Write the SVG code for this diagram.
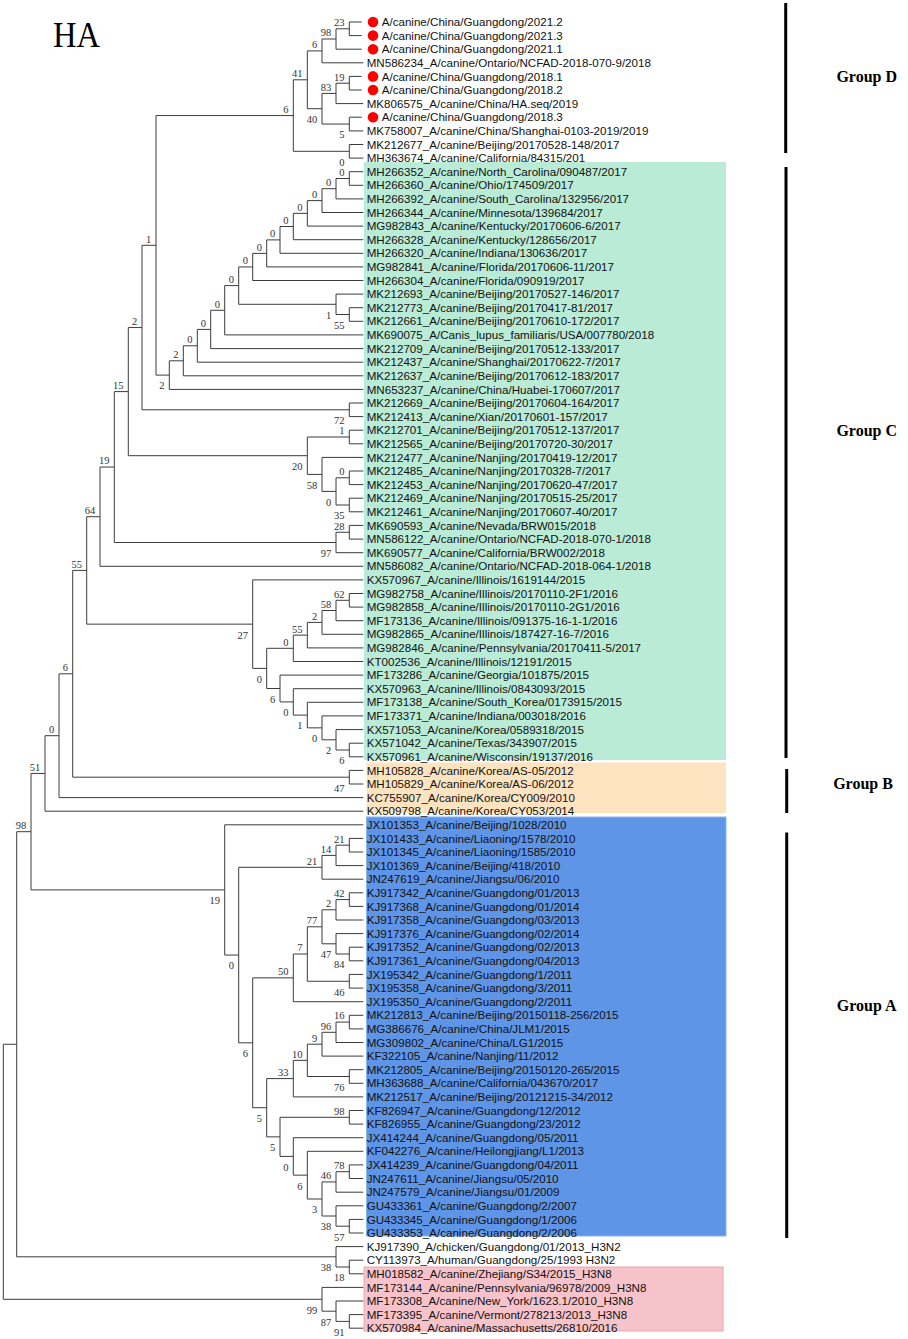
<svg xmlns="http://www.w3.org/2000/svg" width="908" height="1339" viewBox="0 0 908 1339">
<style>
.br{fill:none;stroke:#3c3c3c;stroke-width:1}
.lf{font-family:"Liberation Sans",Arial,sans-serif;font-size:11.6px;fill:#111}
.bs{font-family:"Liberation Serif","Times New Roman",serif;font-size:10.5px;fill:#333;text-anchor:end}
.grp{font-family:"Liberation Serif","Times New Roman",serif;font-weight:bold;font-size:16px;text-anchor:middle;fill:#000}
.bar{stroke:#000;stroke-width:3}
.dot{fill:#ff0000}
</style>
<rect width="908" height="1339" fill="#fff"/>
<g id="backgrounds">
<rect x="364" y="162" width="362" height="598" fill="#b9ebd6"/>
<rect x="366.5" y="762.5" width="359.5" height="50.5" fill="#fde3bf"/>
<rect x="366.5" y="817" width="359.5" height="419" fill="#5f95e6" stroke="#8cb3ee" stroke-width="1"/>
<rect x="364" y="1267" width="359" height="64" fill="#f7c3ca" stroke="#eaa6b0" stroke-width="1"/>
</g>
<g id="title"><text x="53" y="47" font-family="Liberation Serif,'Times New Roman',serif" font-size="35" textLength="47" lengthAdjust="spacingAndGlyphs" fill="#000">HA</text></g>
<g id="connectors">
<path class="br" d="M361.7 22 H349.3 V35.6 H361.7"/>
<path class="br" d="M349.3 28.8 H336 V49.2 H361.7"/>
<path class="br" d="M336 39 H322 V62.8 H363.3"/>
<path class="br" d="M361.7 76.4 H349.3 V90 H361.7"/>
<path class="br" d="M349.3 83.2 H336 V103.6 H363.3"/>
<path class="br" d="M361.7 117.2 H349.3 V130.9 H363.3"/>
<path class="br" d="M336 93.4 H322 V124.05 H349.3"/>
<path class="br" d="M322 50.9 H307.3 V108.7 H322"/>
<path class="br" d="M363.3 144.5 H349.3 V158.1 H363.3"/>
<path class="br" d="M307.3 79.8 H293.3 V151.3 H349.3"/>
<path class="br" d="M363.3 171.7 H349.3 V185.3 H363.3"/>
<path class="br" d="M349.3 178.5 H336 V198.9 H363.3"/>
<path class="br" d="M336 188.7 H322 V212.5 H363.3"/>
<path class="br" d="M322 200.6 H307.3 V226.1 H363.3"/>
<path class="br" d="M307.3 213.35 H293.3 V239.7 H363.3"/>
<path class="br" d="M293.3 226.5 H280 V253.3 H363.3"/>
<path class="br" d="M280 239.9 H266.7 V266.9 H363.3"/>
<path class="br" d="M266.7 253.4 H252.7 V280.5 H363.3"/>
<path class="br" d="M363.3 307.7 H349.3 V321.3 H363.3"/>
<path class="br" d="M363.3 294.1 H336 V314.5 H349.3"/>
<path class="br" d="M252.7 266.95 H238.7 V304.3 H336"/>
<path class="br" d="M238.7 285.6 H224.7 V334.9 H363.3"/>
<path class="br" d="M224.7 310.25 H210.7 V348.6 H363.3"/>
<path class="br" d="M210.7 329.4 H197.3 V362.2 H363.3"/>
<path class="br" d="M197.3 345.8 H183.3 V375.8 H363.3"/>
<path class="br" d="M183.3 360.8 H169.3 V389.4 H363.3"/>
<path class="br" d="M293.3 115.55 H156 V375.1 H169.3"/>
<path class="br" d="M363.3 403 H349.3 V416.6 H363.3"/>
<path class="br" d="M156 245.3 H142 V409.8 H349.3"/>
<path class="br" d="M363.3 430.2 H349.3 V443.8 H363.3"/>
<path class="br" d="M363.3 471 H349.3 V484.6 H363.3"/>
<path class="br" d="M363.3 498.2 H349.3 V511.8 H363.3"/>
<path class="br" d="M349.3 477.8 H336 V505 H349.3"/>
<path class="br" d="M363.3 457.4 H322 V491.4 H336"/>
<path class="br" d="M349.3 437 H307.3 V474.4 H322"/>
<path class="br" d="M142 327.55 H128.3 V455.7 H307.3"/>
<path class="br" d="M363.3 525.4 H349.3 V539.1 H363.3"/>
<path class="br" d="M349.3 532.25 H336 V552.7 H363.3"/>
<path class="br" d="M128.3 391.6 H114.3 V542.5 H336"/>
<path class="br" d="M114.3 467.05 H100 V566.3 H363.3"/>
<path class="br" d="M363.3 593.5 H349.3 V607.1 H363.3"/>
<path class="br" d="M349.3 600.3 H336 V620.7 H363.3"/>
<path class="br" d="M336 610.5 H322 V634.3 H363.3"/>
<path class="br" d="M322 622.4 H307.3 V647.9 H363.3"/>
<path class="br" d="M307.3 635.15 H293.3 V661.5 H363.3"/>
<path class="br" d="M363.3 743.2 H349.3 V756.8 H363.3"/>
<path class="br" d="M363.3 729.6 H336 V750 H349.3"/>
<path class="br" d="M363.3 715.9 H322 V739.8 H336"/>
<path class="br" d="M363.3 702.3 H307.3 V727.85 H322"/>
<path class="br" d="M363.3 688.7 H293.3 V715.1 H307.3"/>
<path class="br" d="M363.3 675.1 H280 V701.9 H293.3"/>
<path class="br" d="M293.3 648.3 H266.7 V688.5 H280"/>
<path class="br" d="M363.3 579.9 H252.7 V668.4 H266.7"/>
<path class="br" d="M100 516.7 H86.7 V624.15 H252.7"/>
<path class="br" d="M363.3 770.4 H349.3 V784 H363.3"/>
<path class="br" d="M86.7 570.4 H72.7 V777.2 H349.3"/>
<path class="br" d="M72.7 673.8 H59 V797.6 H363.3"/>
<path class="br" d="M59 735.7 H45 V811.2 H363.3"/>
<path class="br" d="M363.3 838.4 H349.3 V852 H363.3"/>
<path class="br" d="M349.3 845.2 H336 V865.6 H363.3"/>
<path class="br" d="M336 855.4 H322 V879.2 H363.3"/>
<path class="br" d="M363.3 892.8 H349.3 V906.4 H363.3"/>
<path class="br" d="M349.3 899.6 H336 V920 H363.3"/>
<path class="br" d="M363.3 947.2 H349.3 V960.8 H363.3"/>
<path class="br" d="M363.3 933.6 H336 V954 H349.3"/>
<path class="br" d="M336 909.8 H322 V943.8 H336"/>
<path class="br" d="M363.3 974.4 H349.3 V988.1 H363.3"/>
<path class="br" d="M322 926.8 H307.3 V981.25 H349.3"/>
<path class="br" d="M307.3 954 H293.3 V1001.7 H363.3"/>
<path class="br" d="M363.3 1015.3 H349.3 V1028.9 H363.3"/>
<path class="br" d="M349.3 1022.1 H336 V1042.5 H363.3"/>
<path class="br" d="M336 1032.3 H322 V1056.1 H363.3"/>
<path class="br" d="M363.3 1069.7 H349.3 V1083.3 H363.3"/>
<path class="br" d="M322 1044.2 H307.3 V1076.5 H349.3"/>
<path class="br" d="M307.3 1060.35 H293.3 V1096.9 H363.3"/>
<path class="br" d="M363.3 1110.5 H349.3 V1124.1 H363.3"/>
<path class="br" d="M363.3 1164.9 H349.3 V1178.5 H363.3"/>
<path class="br" d="M349.3 1171.7 H336 V1192.2 H363.3"/>
<path class="br" d="M363.3 1219.4 H349.3 V1233 H363.3"/>
<path class="br" d="M363.3 1205.8 H336 V1226.2 H349.3"/>
<path class="br" d="M336 1181.95 H322 V1216 H336"/>
<path class="br" d="M363.3 1151.3 H307.3 V1199 H322"/>
<path class="br" d="M363.3 1137.7 H293.3 V1175.15 H307.3"/>
<path class="br" d="M349.3 1117.3 H280 V1156.4 H293.3"/>
<path class="br" d="M293.3 1078.6 H266.7 V1136.85 H280"/>
<path class="br" d="M293.3 977.85 H252.7 V1107.7 H266.7"/>
<path class="br" d="M322 867.3 H238.7 V1042.8 H252.7"/>
<path class="br" d="M363.3 824.8 H224.7 V955.05 H238.7"/>
<path class="br" d="M45 773.45 H31 V889.9 H224.7"/>
<path class="br" d="M363.3 1260.2 H349.3 V1273.8 H363.3"/>
<path class="br" d="M363.3 1246.6 H336 V1267 H349.3"/>
<path class="br" d="M31 831.7 H16.7 V1256.8 H336"/>
<path class="br" d="M363.3 1314.6 H349.3 V1328.2 H363.3"/>
<path class="br" d="M363.3 1301 H336 V1321.4 H349.3"/>
<path class="br" d="M363.3 1287.4 H322 V1311.2 H336"/>
<path class="br" d="M16.7 1044.25 H3.3 V1299.3 H322"/>
</g>
<g id="bootstrap">
<g id="nA"><text class="bs" x="344.5" y="26.1">23</text></g>
<g id="nB"><text class="bs" x="331.2" y="36.3">98</text></g>
<g id="nC"><text class="bs" x="317.2" y="48.2">6</text></g>
<g id="nD"><text class="bs" x="344.5" y="80.5">19</text></g>
<g id="nE"><text class="bs" x="331.2" y="90.7">83</text></g>
<g id="nF"><text class="bs" x="344.5" y="138.4">5</text></g>
<g id="nG"><text class="bs" x="317.2" y="123">40</text></g>
<g id="nH"><text class="bs" x="302.5" y="77.1">41</text></g>
<g id="nI"><text class="bs" x="344.5" y="165.6">0</text></g>
<g id="nJ"><text class="bs" x="288.5" y="112.9">6</text></g>
<g id="c1"><text class="bs" x="344.5" y="175.8">0</text></g>
<g id="c2"><text class="bs" x="331.2" y="186">0</text></g>
<g id="c3"><text class="bs" x="317.2" y="197.9">0</text></g>
<g id="c4"><text class="bs" x="302.5" y="210.7">0</text></g>
<g id="c5"><text class="bs" x="288.5" y="223.8">0</text></g>
<g id="c6"><text class="bs" x="275.2" y="237.2">0</text></g>
<g id="c7"><text class="bs" x="261.9" y="250.7">0</text></g>
<g id="c8"><text class="bs" x="247.9" y="264.3">0</text></g>
<g id="c9"><text class="bs" x="344.5" y="328.8">55</text></g>
<g id="c10"><text class="bs" x="331.2" y="318.6">1</text></g>
<g id="c11"><text class="bs" x="233.9" y="282.9">0</text></g>
<g id="c12"><text class="bs" x="219.9" y="307.6">0</text></g>
<g id="c13"><text class="bs" x="205.9" y="326.7">0</text></g>
<g id="c14"><text class="bs" x="192.5" y="343.1">0</text></g>
<g id="c15"><text class="bs" x="178.5" y="358.1">2</text></g>
<g id="c16"><text class="bs" x="164.5" y="389.4">2</text></g>
<g id="nK"><text class="bs" x="151.2" y="242.6">1</text></g>
<g id="c17"><text class="bs" x="344.5" y="424.1">72</text></g>
<g id="c18"><text class="bs" x="137.2" y="324.9">2</text></g>
<g id="c19"><text class="bs" x="344.5" y="434.3">1</text></g>
<g id="c20"><text class="bs" x="344.5" y="475.1">0</text></g>
<g id="c21"><text class="bs" x="344.5" y="519.3">35</text></g>
<g id="c22"><text class="bs" x="331.2" y="505.7">0</text></g>
<g id="c23"><text class="bs" x="317.2" y="488.7">58</text></g>
<g id="c24"><text class="bs" x="302.5" y="470">20</text></g>
<g id="c25"><text class="bs" x="123.5" y="388.9">15</text></g>
<g id="c26"><text class="bs" x="344.5" y="529.6">28</text></g>
<g id="c27"><text class="bs" x="331.2" y="556.8">97</text></g>
<g id="c28"><text class="bs" x="109.5" y="464.4">19</text></g>
<g id="c29"><text class="bs" x="95.2" y="514">64</text></g>
<g id="d1"><text class="bs" x="344.5" y="597.6">62</text></g>
<g id="d2"><text class="bs" x="331.2" y="607.8">58</text></g>
<g id="d3"><text class="bs" x="317.2" y="619.7">2</text></g>
<g id="d4"><text class="bs" x="302.5" y="632.5">55</text></g>
<g id="d5"><text class="bs" x="288.5" y="645.6">0</text></g>
<g id="d6"><text class="bs" x="344.5" y="764.3">6</text></g>
<g id="d7"><text class="bs" x="331.2" y="754.1">2</text></g>
<g id="d8"><text class="bs" x="317.2" y="742.2">0</text></g>
<g id="d9"><text class="bs" x="302.5" y="729.4">1</text></g>
<g id="d10"><text class="bs" x="288.5" y="716.2">0</text></g>
<g id="d11"><text class="bs" x="275.2" y="702.8">6</text></g>
<g id="d12"><text class="bs" x="261.9" y="682.7">0</text></g>
<g id="d13"><text class="bs" x="247.9" y="638.5">27</text></g>
<g id="d14"><text class="bs" x="81.9" y="567.7">55</text></g>
<g id="b1"><text class="bs" x="344.5" y="791.5">47</text></g>
<g id="b2"><text class="bs" x="67.9" y="671.1">6</text></g>
<g id="b3"><text class="bs" x="54.2" y="733">0</text></g>
<g id="b4"><text class="bs" x="40.2" y="770.8">51</text></g>
<g id="a1"><text class="bs" x="344.5" y="842.5">21</text></g>
<g id="a2"><text class="bs" x="331.2" y="852.7">14</text></g>
<g id="a3"><text class="bs" x="317.2" y="864.6">21</text></g>
<g id="a4"><text class="bs" x="344.5" y="896.9">42</text></g>
<g id="a5"><text class="bs" x="331.2" y="907.1">2</text></g>
<g id="a6"><text class="bs" x="344.5" y="968.3">84</text></g>
<g id="a7"><text class="bs" x="331.2" y="958.1">47</text></g>
<g id="a8"><text class="bs" x="317.2" y="924.1">77</text></g>
<g id="a9"><text class="bs" x="344.5" y="995.6">46</text></g>
<g id="a10"><text class="bs" x="302.5" y="951.3">7</text></g>
<g id="a11"><text class="bs" x="288.5" y="975.2">50</text></g>
<g id="a12"><text class="bs" x="344.5" y="1019.4">16</text></g>
<g id="a13"><text class="bs" x="331.2" y="1029.6">96</text></g>
<g id="a14"><text class="bs" x="317.2" y="1041.5">9</text></g>
<g id="a15"><text class="bs" x="344.5" y="1090.8">76</text></g>
<g id="a16"><text class="bs" x="302.5" y="1057.7">10</text></g>
<g id="a17"><text class="bs" x="288.5" y="1075.9">33</text></g>
<g id="a18"><text class="bs" x="344.5" y="1114.6">98</text></g>
<g id="a19"><text class="bs" x="344.5" y="1169">78</text></g>
<g id="a20"><text class="bs" x="331.2" y="1179.3">46</text></g>
<g id="a21"><text class="bs" x="344.5" y="1240.5">57</text></g>
<g id="a22"><text class="bs" x="331.2" y="1230.3">38</text></g>
<g id="a23"><text class="bs" x="317.2" y="1213.3">3</text></g>
<g id="a24"><text class="bs" x="302.5" y="1189.5">6</text></g>
<g id="a25"><text class="bs" x="288.5" y="1170.7">0</text></g>
<g id="a26"><text class="bs" x="275.2" y="1151.2">5</text></g>
<g id="a27"><text class="bs" x="261.9" y="1122">5</text></g>
<g id="a28"><text class="bs" x="247.9" y="1057.1">6</text></g>
<g id="a29"><text class="bs" x="233.9" y="969.4">0</text></g>
<g id="a30"><text class="bs" x="219.9" y="904.2">19</text></g>
<g id="r1"><text class="bs" x="26.2" y="829">98</text></g>
<g id="o1"><text class="bs" x="344.5" y="1281.3">18</text></g>
<g id="o2"><text class="bs" x="331.2" y="1271.1">38</text></g>
<g id="o3"><text class="bs" x="344.5" y="1335.7">91</text></g>
<g id="o4"><text class="bs" x="331.2" y="1325.5">87</text></g>
<g id="o5"><text class="bs" x="317.2" y="1313.6">99</text></g>
</g>
<g id="leaves">
<g id="leaf1"><circle class="dot" cx="373" cy="22" r="5.3"/><text class="lf" x="381.7" y="26.1">A/canine/China/Guangdong/2021.2</text></g>
<g id="leaf2"><circle class="dot" cx="373" cy="35.6" r="5.3"/><text class="lf" x="381.7" y="39.7">A/canine/China/Guangdong/2021.3</text></g>
<g id="leaf3"><circle class="dot" cx="373" cy="49.2" r="5.3"/><text class="lf" x="381.7" y="53.3">A/canine/China/Guangdong/2021.1</text></g>
<g id="leaf4"><text class="lf" x="366.7" y="66.9">MN586234_A/canine/Ontario/NCFAD-2018-070-9/2018</text></g>
<g id="leaf5"><circle class="dot" cx="373" cy="76.4" r="5.3"/><text class="lf" x="381.7" y="80.5">A/canine/China/Guangdong/2018.1</text></g>
<g id="leaf6"><circle class="dot" cx="373" cy="90" r="5.3"/><text class="lf" x="381.7" y="94.1">A/canine/China/Guangdong/2018.2</text></g>
<g id="leaf7"><text class="lf" x="366.7" y="107.7">MK806575_A/canine/China/HA.seq/2019</text></g>
<g id="leaf8"><circle class="dot" cx="373" cy="117.2" r="5.3"/><text class="lf" x="381.7" y="121.3">A/canine/China/Guangdong/2018.3</text></g>
<g id="leaf9"><text class="lf" x="366.7" y="135">MK758007_A/canine/China/Shanghai-0103-2019/2019</text></g>
<g id="leaf10"><text class="lf" x="366.7" y="148.6">MK212677_A/canine/Beijing/20170528-148/2017</text></g>
<g id="leaf11"><text class="lf" x="366.7" y="162.2">MH363674_A/canine/California/84315/201</text></g>
<g id="leaf12"><text class="lf" x="366.7" y="175.8">MH266352_A/canine/North_Carolina/090487/2017</text></g>
<g id="leaf13"><text class="lf" x="366.7" y="189.4">MH266360_A/canine/Ohio/174509/2017</text></g>
<g id="leaf14"><text class="lf" x="366.7" y="203">MH266392_A/canine/South_Carolina/132956/2017</text></g>
<g id="leaf15"><text class="lf" x="366.7" y="216.6">MH266344_A/canine/Minnesota/139684/2017</text></g>
<g id="leaf16"><text class="lf" x="366.7" y="230.2">MG982843_A/canine/Kentucky/20170606-6/2017</text></g>
<g id="leaf17"><text class="lf" x="366.7" y="243.8">MH266328_A/canine/Kentucky/128656/2017</text></g>
<g id="leaf18"><text class="lf" x="366.7" y="257.4">MH266320_A/canine/Indiana/130636/2017</text></g>
<g id="leaf19"><text class="lf" x="366.7" y="271">MG982841_A/canine/Florida/20170606-11/2017</text></g>
<g id="leaf20"><text class="lf" x="366.7" y="284.6">MH266304_A/canine/Florida/090919/2017</text></g>
<g id="leaf21"><text class="lf" x="366.7" y="298.2">MK212693_A/canine/Beijing/20170527-146/2017</text></g>
<g id="leaf22"><text class="lf" x="366.7" y="311.8">MK212773_A/canine/Beijing/20170417-81/2017</text></g>
<g id="leaf23"><text class="lf" x="366.7" y="325.4">MK212661_A/canine/Beijing/20170610-172/2017</text></g>
<g id="leaf24"><text class="lf" x="366.7" y="339">MK690075_A/Canis_lupus_familiaris/USA/007780/2018</text></g>
<g id="leaf25"><text class="lf" x="366.7" y="352.7">MK212709_A/canine/Beijing/20170512-133/2017</text></g>
<g id="leaf26"><text class="lf" x="366.7" y="366.3">MK212437_A/canine/Shanghai/20170622-7/2017</text></g>
<g id="leaf27"><text class="lf" x="366.7" y="379.9">MK212637_A/canine/Beijing/20170612-183/2017</text></g>
<g id="leaf28"><text class="lf" x="366.7" y="393.5">MN653237_A/canine/China/Huabei-170607/2017</text></g>
<g id="leaf29"><text class="lf" x="366.7" y="407.1">MK212669_A/canine/Beijing/20170604-164/2017</text></g>
<g id="leaf30"><text class="lf" x="366.7" y="420.7">MK212413_A/canine/Xian/20170601-157/2017</text></g>
<g id="leaf31"><text class="lf" x="366.7" y="434.3">MK212701_A/canine/Beijing/20170512-137/2017</text></g>
<g id="leaf32"><text class="lf" x="366.7" y="447.9">MK212565_A/canine/Beijing/20170720-30/2017</text></g>
<g id="leaf33"><text class="lf" x="366.7" y="461.5">MK212477_A/canine/Nanjing/20170419-12/2017</text></g>
<g id="leaf34"><text class="lf" x="366.7" y="475.1">MK212485_A/canine/Nanjing/20170328-7/2017</text></g>
<g id="leaf35"><text class="lf" x="366.7" y="488.7">MK212453_A/canine/Nanjing/20170620-47/2017</text></g>
<g id="leaf36"><text class="lf" x="366.7" y="502.3">MK212469_A/canine/Nanjing/20170515-25/2017</text></g>
<g id="leaf37"><text class="lf" x="366.7" y="515.9">MK212461_A/canine/Nanjing/20170607-40/2017</text></g>
<g id="leaf38"><text class="lf" x="366.7" y="529.5">MK690593_A/canine/Nevada/BRW015/2018</text></g>
<g id="leaf39"><text class="lf" x="366.7" y="543.2">MN586122_A/canine/Ontario/NCFAD-2018-070-1/2018</text></g>
<g id="leaf40"><text class="lf" x="366.7" y="556.8">MK690577_A/canine/California/BRW002/2018</text></g>
<g id="leaf41"><text class="lf" x="366.7" y="570.4">MN586082_A/canine/Ontario/NCFAD-2018-064-1/2018</text></g>
<g id="leaf42"><text class="lf" x="366.7" y="584">KX570967_A/canine/Illinois/1619144/2015</text></g>
<g id="leaf43"><text class="lf" x="366.7" y="597.6">MG982758_A/canine/Illinois/20170110-2F1/2016</text></g>
<g id="leaf44"><text class="lf" x="366.7" y="611.2">MG982858_A/canine/Illinois/20170110-2G1/2016</text></g>
<g id="leaf45"><text class="lf" x="366.7" y="624.8">MF173136_A/canine/Illinois/091375-16-1-1/2016</text></g>
<g id="leaf46"><text class="lf" x="366.7" y="638.4">MG982865_A/canine/Illinois/187427-16-7/2016</text></g>
<g id="leaf47"><text class="lf" x="366.7" y="652">MG982846_A/canine/Pennsylvania/20170411-5/2017</text></g>
<g id="leaf48"><text class="lf" x="366.7" y="665.6">KT002536_A/canine/Illinois/12191/2015</text></g>
<g id="leaf49"><text class="lf" x="366.7" y="679.2">MF173286_A/canine/Georgia/101875/2015</text></g>
<g id="leaf50"><text class="lf" x="366.7" y="692.8">KX570963_A/canine/Illinois/0843093/2015</text></g>
<g id="leaf51"><text class="lf" x="366.7" y="706.4">MF173138_A/canine/South_Korea/0173915/2015</text></g>
<g id="leaf52"><text class="lf" x="366.7" y="720">MF173371_A/canine/Indiana/003018/2016</text></g>
<g id="leaf53"><text class="lf" x="366.7" y="733.7">KX571053_A/canine/Korea/0589318/2015</text></g>
<g id="leaf54"><text class="lf" x="366.7" y="747.3">KX571042_A/canine/Texas/343907/2015</text></g>
<g id="leaf55"><text class="lf" x="366.7" y="760.9">KX570961_A/canine/Wisconsin/19137/2016</text></g>
<g id="leaf56"><text class="lf" x="366.7" y="774.5">MH105828_A/canine/Korea/AS-05/2012</text></g>
<g id="leaf57"><text class="lf" x="366.7" y="788.1">MH105829_A/canine/Korea/AS-06/2012</text></g>
<g id="leaf58"><text class="lf" x="366.7" y="801.7">KC755907_A/canine/Korea/CY009/2010</text></g>
<g id="leaf59"><text class="lf" x="366.7" y="815.3">KX509798_A/canine/Korea/CY053/2014</text></g>
<g id="leaf60"><text class="lf" x="366.7" y="828.9">JX101353_A/canine/Beijing/1028/2010</text></g>
<g id="leaf61"><text class="lf" x="366.7" y="842.5">JX101433_A/canine/Liaoning/1578/2010</text></g>
<g id="leaf62"><text class="lf" x="366.7" y="856.1">JX101345_A/canine/Liaoning/1585/2010</text></g>
<g id="leaf63"><text class="lf" x="366.7" y="869.7">JX101369_A/canine/Beijing/418/2010</text></g>
<g id="leaf64"><text class="lf" x="366.7" y="883.3">JN247619_A/canine/Jiangsu/06/2010</text></g>
<g id="leaf65"><text class="lf" x="366.7" y="896.9">KJ917342_A/canine/Guangdong/01/2013</text></g>
<g id="leaf66"><text class="lf" x="366.7" y="910.5">KJ917368_A/canine/Guangdong/01/2014</text></g>
<g id="leaf67"><text class="lf" x="366.7" y="924.1">KJ917358_A/canine/Guangdong/03/2013</text></g>
<g id="leaf68"><text class="lf" x="366.7" y="937.7">KJ917376_A/canine/Guangdong/02/2014</text></g>
<g id="leaf69"><text class="lf" x="366.7" y="951.3">KJ917352_A/canine/Guangdong/02/2013</text></g>
<g id="leaf70"><text class="lf" x="366.7" y="964.9">KJ917361_A/canine/Guangdong/04/2013</text></g>
<g id="leaf71"><text class="lf" x="366.7" y="978.5">JX195342_A/canine/Guangdong/1/2011</text></g>
<g id="leaf72"><text class="lf" x="366.7" y="992.2">JX195358_A/canine/Guangdong/3/2011</text></g>
<g id="leaf73"><text class="lf" x="366.7" y="1005.8">JX195350_A/canine/Guangdong/2/2011</text></g>
<g id="leaf74"><text class="lf" x="366.7" y="1019.4">MK212813_A/canine/Beijing/20150118-256/2015</text></g>
<g id="leaf75"><text class="lf" x="366.7" y="1033">MG386676_A/canine/China/JLM1/2015</text></g>
<g id="leaf76"><text class="lf" x="366.7" y="1046.6">MG309802_A/canine/China/LG1/2015</text></g>
<g id="leaf77"><text class="lf" x="366.7" y="1060.2">KF322105_A/canine/Nanjing/11/2012</text></g>
<g id="leaf78"><text class="lf" x="366.7" y="1073.8">MK212805_A/canine/Beijing/20150120-265/2015</text></g>
<g id="leaf79"><text class="lf" x="366.7" y="1087.4">MH363688_A/canine/California/043670/2017</text></g>
<g id="leaf80"><text class="lf" x="366.7" y="1101">MK212517_A/canine/Beijing/20121215-34/2012</text></g>
<g id="leaf81"><text class="lf" x="366.7" y="1114.6">KF826947_A/canine/Guangdong/12/2012</text></g>
<g id="leaf82"><text class="lf" x="366.7" y="1128.2">KF826955_A/canine/Guangdong/23/2012</text></g>
<g id="leaf83"><text class="lf" x="366.7" y="1141.8">JX414244_A/canine/Guangdong/05/2011</text></g>
<g id="leaf84"><text class="lf" x="366.7" y="1155.4">KF042276_A/canine/Heilongjiang/L1/2013</text></g>
<g id="leaf85"><text class="lf" x="366.7" y="1169">JX414239_A/canine/Guangdong/04/2011</text></g>
<g id="leaf86"><text class="lf" x="366.7" y="1182.6">JN247611_A/canine/Jiangsu/05/2010</text></g>
<g id="leaf87"><text class="lf" x="366.7" y="1196.3">JN247579_A/canine/Jiangsu/01/2009</text></g>
<g id="leaf88"><text class="lf" x="366.7" y="1209.9">GU433361_A/canine/Guangdong/2/2007</text></g>
<g id="leaf89"><text class="lf" x="366.7" y="1223.5">GU433345_A/canine/Guangdong/1/2006</text></g>
<g id="leaf90"><text class="lf" x="366.7" y="1237.1">GU433353_A/canine/Guangdong/2/2006</text></g>
<g id="leaf91"><text class="lf" x="366.7" y="1250.7">KJ917390_A/chicken/Guangdong/01/2013_H3N2</text></g>
<g id="leaf92"><text class="lf" x="366.7" y="1264.3">CY113973_A/human/Guangdong/25/1993 H3N2</text></g>
<g id="leaf93"><text class="lf" x="366.7" y="1277.9">MH018582_A/canine/Zhejiang/S34/2015_H3N8</text></g>
<g id="leaf94"><text class="lf" x="366.7" y="1291.5">MF173144_A/canine/Pennsylvania/96978/2009_H3N8</text></g>
<g id="leaf95"><text class="lf" x="366.7" y="1305.1">MF173308_A/canine/New_York/1623.1/2010_H3N8</text></g>
<g id="leaf96"><text class="lf" x="366.7" y="1318.7">MF173395_A/canine/Vermont/278213/2013_H3N8</text></g>
<g id="leaf97"><text class="lf" x="366.7" y="1332.3">KX570984_A/canine/Massachusetts/26810/2016</text></g>
</g>
<g id="groups">
<g id="groupD"><line class="bar" x1="785.7" y1="3" x2="785.7" y2="153"/><text class="grp" x="866.7" y="82">Group D</text></g>
<g id="groupC"><line class="bar" x1="786" y1="167" x2="786" y2="758"/><text class="grp" x="866.7" y="436">Group C</text></g>
<g id="groupB"><line class="bar" x1="786.7" y1="769" x2="786.7" y2="813"/><text class="grp" x="863" y="788.5">Group B</text></g>
<g id="groupA"><line class="bar" x1="786.7" y1="832.5" x2="786.7" y2="1238"/><text class="grp" x="866.7" y="1011">Group A</text></g>
</g>
</svg>
